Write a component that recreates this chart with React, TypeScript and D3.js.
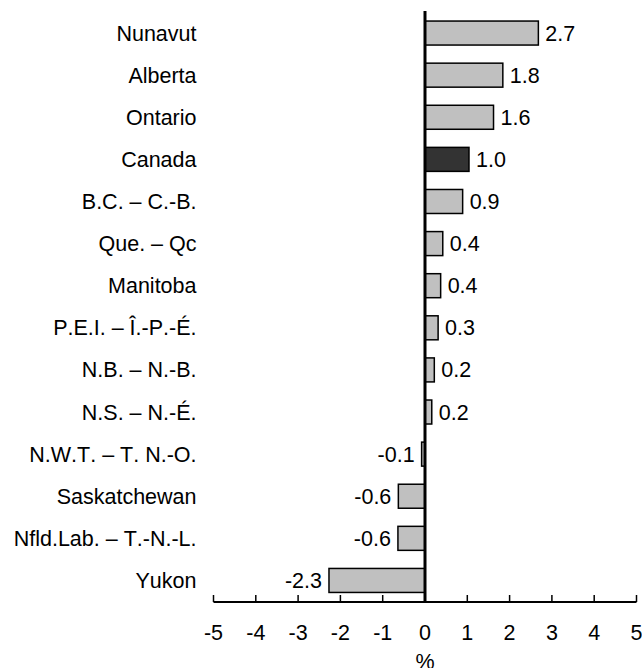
import React from "react";
import * as d3 from "d3";

const categories = [
  "Nunavut", "Alberta", "Ontario", "Canada", "B.C. – C.-B.", "Que. – Qc", "Manitoba",
  "P.E.I. – Î.-P.-É.", "N.B. – N.-B.", "N.S. – N.-É.", "N.W.T. – T. N.-O.",
  "Saskatchewan", "Nfld.Lab. – T.-N.-L.", "Yukon",
];
const values = [2.68, 1.84, 1.62, 1.04, 0.89, 0.42, 0.37, 0.31, 0.22, 0.16, -0.08, -0.63, -0.64, -2.27];
const xTicks = [-5, -4, -3, -2, -1, 0, 1, 2, 3, 4, 5];
const highlight = "Canada";
const xTitle = "%";

export default function App() {
  const W = 642, H = 668;
  const x = d3.scaleLinear().domain([-5, 5]).range([213.5, 636.5]);
  const y = d3.scaleBand<string>().domain(categories).range([12, 601.5]).paddingInner(0.43).paddingOuter(0.215);
  const axisY = 602;
  const font = "'Liberation Sans', Arial, sans-serif";
  const fs = 21.5;
  return (
    <svg width={W} height={H} style={{ position: "absolute", left: 0, top: 0, background: "#fff", fontKerning: "none" }} fontFamily={font}>
      {categories.map((c, i) => {
        const v = values[i];
        const x0 = x(Math.min(0, v));
        const x1 = x(Math.max(0, v));
        const yy = y(c)!;
        const bh = y.bandwidth();
        return (
          <g key={c}>
            <rect x={x0} y={yy} width={x1 - x0} height={bh}
              fill={c === highlight ? "#333333" : "#c0c0c0"} stroke="#000" strokeWidth={1.5} />
            <text x={196.5} y={yy + bh / 2} dy="0.35em" textAnchor="end" fontSize={fs} fill="#000">{c}</text>
            <text x={v >= 0 ? x1 + 7 : x0 - 7} y={yy + bh / 2} dy="0.35em"
              textAnchor={v >= 0 ? "start" : "end"} fontSize={fs} fill="#000">{v.toFixed(1)}</text>
          </g>
        );
      })}
      <line x1={x(-5)} x2={x(5)} y1={axisY} y2={axisY} stroke="#000" strokeWidth={2} />
      {xTicks.map((t) => (
        <g key={t}>
          <line x1={x(t)} x2={x(t)} y1={axisY - 7} y2={axisY} stroke="#000" strokeWidth={1.5} />
          <text x={x(t)} y={632.5} dy="0.35em" textAnchor="middle" fontSize={fs} fill="#000">{t}</text>
        </g>
      ))}
      <line x1={x(0)} x2={x(0)} y1={11} y2={axisY + 1} stroke="#000" strokeWidth={3} />
      <text x={x(0)} y={661} dy="0.35em" textAnchor="middle" fontSize={fs} fill="#000">{xTitle}</text>
    </svg>
  );
}
